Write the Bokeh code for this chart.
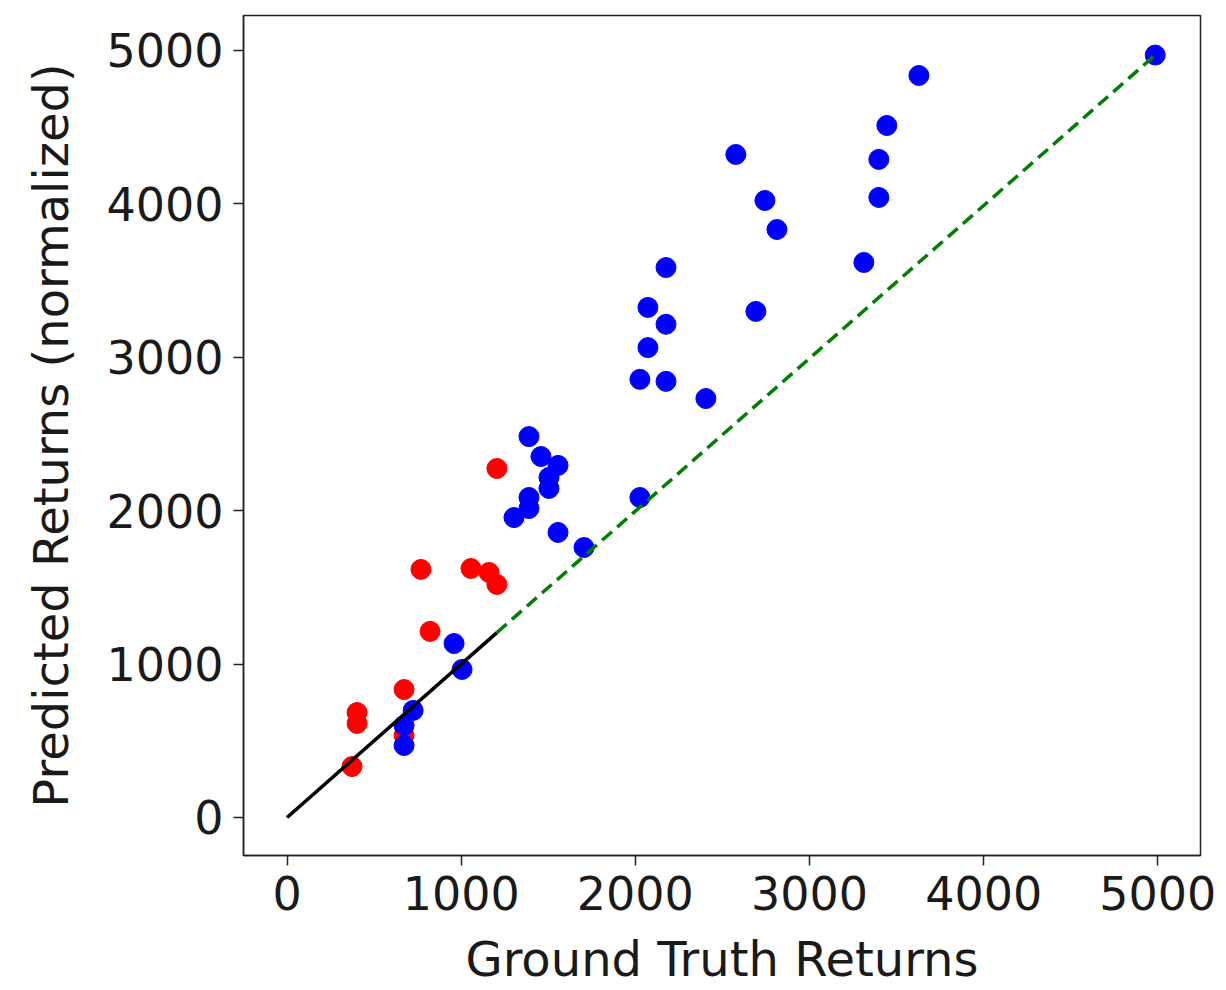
from bokeh.plotting import figure
from bokeh.models import Range1d, FixedTicker
from bokeh.embed import file_html
from bokeh.resources import INLINE

# Data
red_x = [1205, 769, 1056, 1160, 1205, 821, 672, 402, 402, 373, 672]
red_y = [2275, 1617, 1623, 1597, 1519, 1213, 834, 684, 613, 332, 535]

blue_x = [4985, 3628, 3444, 3398, 3398, 3312, 2577, 2744, 2813, 2692, 2405,
          2176, 2072, 2176, 2072, 2026, 2176, 2026, 1705, 1556, 1389, 1458,
          1556, 1504, 1504, 1389, 1389, 1303, 959, 1005, 724, 672, 672]
blue_y = [4970, 4837, 4511, 4290, 4042, 3618, 4322, 4022, 3833, 3299, 2731,
          3585, 3325, 3215, 3063, 2856, 2843, 2086, 1760, 1858, 2483, 2353,
          2295, 2217, 2145, 2086, 2014, 1955, 1134, 965, 698, 600, 469]

black_x = [0, 1205]
black_y = [0, 1205]
green_x = [1205, 4985]
green_y = [1205, 4970]

ticks = [0, 1000, 2000, 3000, 4000, 5000]

p = figure(width=1226, height=990, output_backend="svg", toolbar_location=None,
           x_range=Range1d(-250, 5245), y_range=Range1d(-248, 5228),
           min_border_left=243, min_border_right=26, min_border_top=15,
           min_border_bottom=135)
p.background_fill_color = "white"
p.border_fill_color = "white"
p.outline_line_color = "#222222"
p.outline_line_width = 1.5
p.xgrid.visible = False
p.ygrid.visible = False

p.scatter(red_x, red_y, size=20, color="#ff0000")
p.scatter(blue_x, blue_y, size=20, color="#0000ff")
p.line(black_x, black_y, color="black", line_width=3.5)
p.line(green_x, green_y, color="#008000", line_width=3.5, line_dash="13 7")

for ax, lab in ((p.xaxis, "Ground Truth Returns"), (p.yaxis, "Predicted Returns (normalized)")):
    ax.ticker = FixedTicker(ticks=ticks)
    ax.axis_label = lab
    ax.axis_label_text_font = "DejaVu Sans"
    ax.axis_label_text_font_size = "48px"
    ax.axis_label_text_font_style = "normal"
    ax.axis_label_text_color = "#1a1a1a"
    ax.major_label_text_font = "DejaVu Sans"
    ax.major_label_text_font_size = "46px"
    ax.major_label_text_color = "#1a1a1a"
    ax.major_tick_out = 10
    ax.major_tick_in = 0
    ax.minor_tick_out = 0
    ax.minor_tick_in = 0
    ax.major_tick_line_color = "#222222"
    ax.major_tick_line_width = 1.5
    ax.axis_line_color = "#222222"
    ax.axis_line_width = 1.5

p.xaxis.major_label_standoff = 10
p.yaxis.major_label_standoff = 10
p.xaxis.axis_label_standoff = 18
p.yaxis.axis_label_standoff = 24

open("out.html", "w").write(file_html(p, INLINE))
